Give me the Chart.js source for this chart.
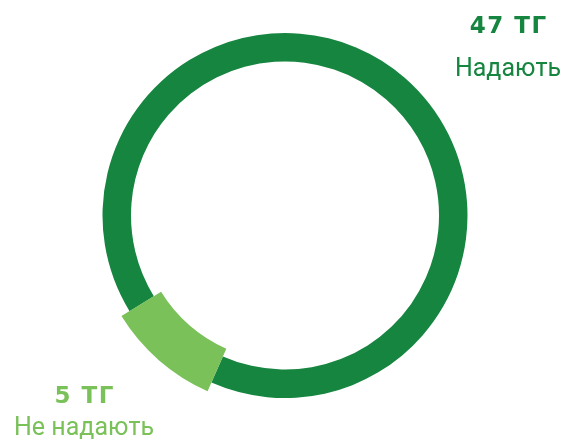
<!DOCTYPE html>
<html>
<head>
<meta charset="utf-8">
<script src="https://cdn.jsdelivr.net/npm/chart.js@4/dist/chart.umd.min.js"></script>
<style>
  html, body { margin: 0; padding: 0; background: #ffffff; }
  #wrap { position: relative; width: 570px; height: 441px; }
</style>
</head>
<body>
<div id="wrap"><canvas id="c"></canvas></div>
<script>
// ---- data ----
const categories = ["Надають", "Не надають"];
const values = [47, 5];
const unit = "ТГ";

// ---- style ----
const DARK = "#15853f";
const LIGHT = "#79c158";

const labelPlugin = {
  id: "sideLabels",
  afterDatasetUpdate(chart) {
    const meta = chart.getDatasetMeta(0);
    const arc = meta.data[1];
    if (arc) {
      arc.outerRadius = arc.outerRadius + 9.5;
      arc.innerRadius = arc.innerRadius - 8.5;
    }
  },
  afterDraw(chart) {
    const ctx = chart.ctx;
    ctx.save();
    ctx.textAlign = "center";
    ctx.textBaseline = "alphabetic";
    const items = [
      { big: values[0] + " " + unit, small: categories[0], x: 508, y1: 33, y2: 76, color: DARK },
      { big: values[1] + " " + unit, small: categories[1], x: 84, y1: 403, y2: 435, color: LIGHT }
    ];
    items.forEach(it => {
      ctx.fillStyle = it.color;
      ctx.font = "bold 23px 'DejaVu Sans'";
      if ("letterSpacing" in ctx) ctx.letterSpacing = "1.5px";
      ctx.fillText(it.big, it.x + 0.75, it.y1);
      if ("letterSpacing" in ctx) ctx.letterSpacing = "0px";
      ctx.font = "25px Roboto";
      ctx.fillText(it.small, it.x, it.y2);
    });
    ctx.restore();
  }
};

new Chart(document.getElementById("c"), {
  type: "doughnut",
  data: {
    labels: categories,
    datasets: [{
      data: values,
      backgroundColor: [DARK, LIGHT],
      borderWidth: 0,
      hoverOffset: 0
    }]
  },
  options: {
    responsive: true,
    maintainAspectRatio: false,
    animation: false,
    rotation: 238.4,
    radius: 182.5,
    cutout: (154 / 182.5 * 100) + "%",
    layout: { padding: { bottom: 10 } },
    events: [],
    plugins: {
      legend: { display: false },
      tooltip: { enabled: false }
    }
  },
  plugins: [labelPlugin]
});
</script>
</body>
</html>
